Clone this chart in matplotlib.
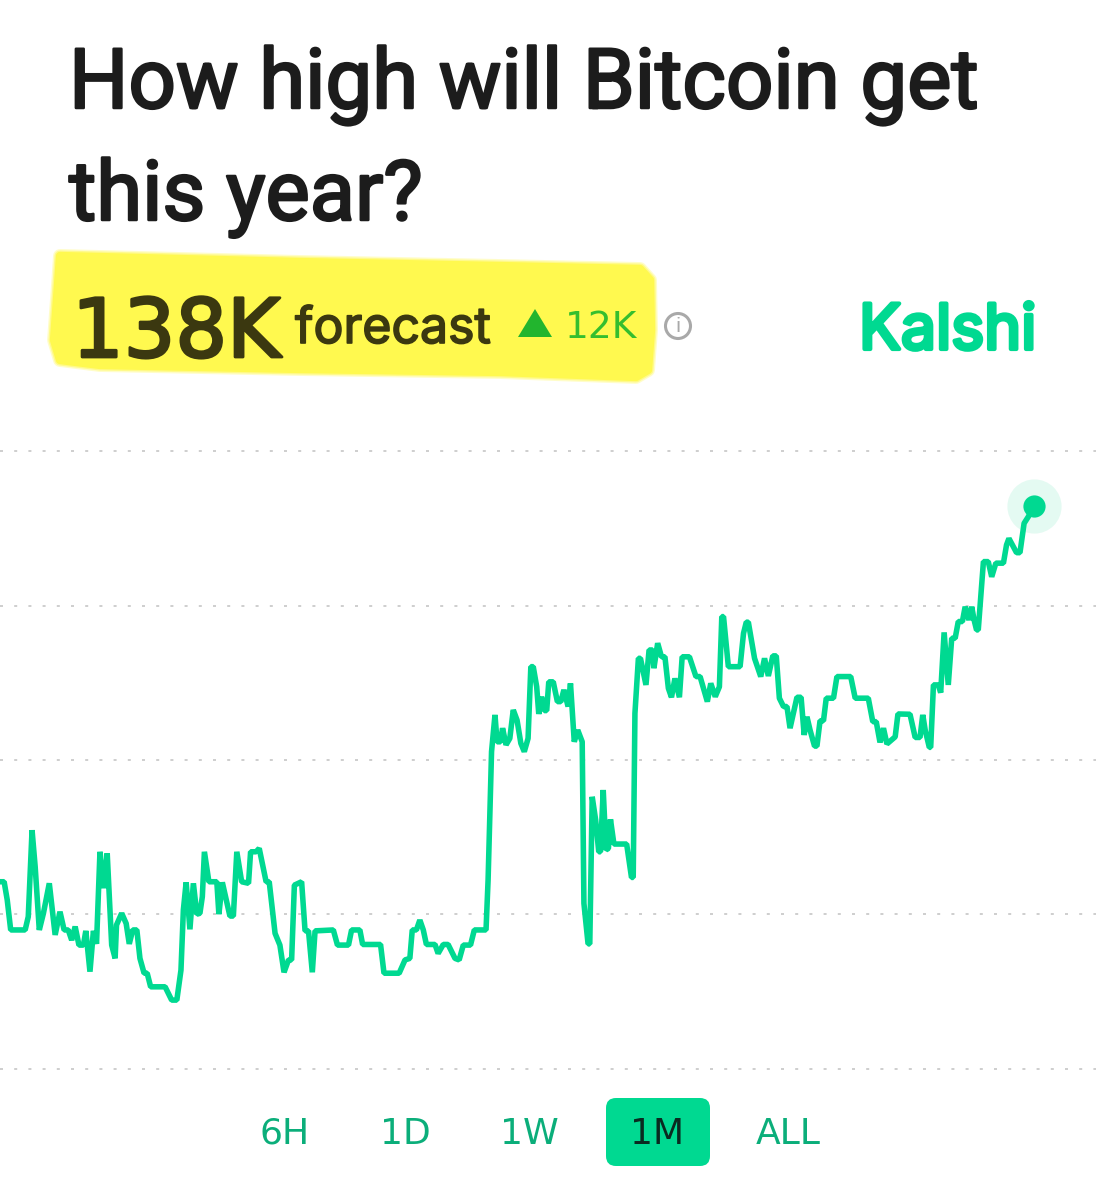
import matplotlib
matplotlib.use("Agg")
import matplotlib.pyplot as plt
from matplotlib.patches import Polygon, FancyBboxPatch, Circle
import matplotlib.patheffects as pe

plt.rcParams['font.family'] = ['Roboto', 'DejaVu Sans']

TITLE_LINES = ["How high will Bitcoin get", "this year?"]
HEADLINE = "138K"
HEADLINE_LABEL = "forecast"
CHANGE = "12K"
BRAND = "Kalshi"
RANGES = ["6H", "1D", "1W", "1M", "ALL"]
ACTIVE_RANGE = "1M"
GRID_K = [120, 125, 130, 135, 140]

days = [
    0, .12, .21, .31, .73, .82, .93, 1.02, 1.14, 1.26,
    1.43, 1.60, 1.74, 1.86, 1.98, 2.08, 2.18, 2.29, 2.42, 2.49,
    2.61, 2.71, 2.80, 2.90, 3.02, 3.11, 3.24, 3.34, 3.38, 3.53,
    3.66, 3.75, 3.85, 3.97, 4.06, 4.18, 4.27, 4.37, 4.79, 4.98,
    5.13, 5.25, 5.32, 5.40, 5.51, 5.61, 5.71, 5.80, 5.87, 5.93,
    6.06, 6.29, 6.35, 6.45, 6.67, 6.77, 6.87, 7.01, 7.21, 7.27,
    7.43, 7.52, 7.72, 7.81, 7.98, 8.12, 8.24, 8.37, 8.46, 8.54,
    8.75, 8.85, 8.95, 9.06, 9.14, 9.67, 9.79, 10.11, 10.20, 10.44,
    10.52, 11.04, 11.14, 11.58, 11.75, 11.89, 11.96, 12.08, 12.18, 12.28,
    12.37, 12.62, 12.71, 12.86, 13.00, 13.20, 13.32, 13.44, 13.65, 13.76,
    14.10, 14.16, 14.26, 14.36, 14.42, 14.52, 14.58, 14.68, 14.79, 14.89,
    15.00, 15.11, 15.21, 15.32, 15.40, 15.47, 15.57, 15.63, 15.71, 15.79,
    15.86, 15.92, 16.05, 16.17, 16.27, 16.36, 16.48, 16.55, 16.66, 16.76,
    16.89, 16.94, 17.06, 17.11, 17.18, 17.28, 17.37, 17.42, 17.50, 17.58,
    17.65, 17.71, 17.81, 18.18, 18.32, 18.37, 18.42, 18.52, 18.58, 18.74,
    18.83, 18.93, 18.97, 19.08, 19.19, 19.29, 19.39, 19.48, 19.58,
    19.71, 19.79, 20.00, 20.19, 20.31, 20.52, 20.62, 20.75, 20.87, 20.94,
    20.99, 21.13, 21.47, 21.57, 21.65, 21.71, 21.89, 22.07, 22.18, 22.29,
    22.42, 22.52, 22.61, 22.73, 22.83, 22.92, 23.12, 23.24, 23.33, 23.41,
    23.50, 23.63, 23.70, 23.79, 23.89, 23.97, 24.18, 24.28, 24.68, 24.81,
    25.19, 25.32, 25.42, 25.53, 25.63, 25.73, 25.97, 26.05,
    26.40, 26.55, 26.69, 26.77, 26.84, 26.96, 27.00, 27.08, 27.22, 27.29,
    27.39, 27.51, 27.61, 27.71, 27.80, 27.92, 28.00, 28.11, 28.19, 28.26,
    28.33, 28.38, 28.53, 28.67, 28.77, 28.89, 29.11, 29.20, 29.27, 29.49,
    29.59, 29.71, 29.83, 30.00,
]
forecast_k = [
    126.06, 126.06, 125.47, 124.50, 124.50, 124.93, 127.73, 126.55, 124.50, 125.04,
    126.01, 124.34, 125.09, 124.50, 124.50, 124.17, 124.61, 124.01, 124.01, 124.47,
    123.15, 124.47, 124.05, 127.03, 125.85, 126.98, 124.01, 123.58, 124.66, 125.04,
    124.71, 124.05, 124.50, 124.50, 123.58, 123.10, 123.10, 122.66, 122.66, 122.23,
    122.23, 123.20, 125.15, 126.04, 124.52, 126.01, 125.01, 125.04, 125.58, 127.03,
    126.06, 126.06, 125.01, 126.04, 124.95, 124.95, 127.03, 126.06, 126.01, 127.03,
    127.03, 127.14, 126.06, 126.06, 124.39, 124.01, 123.13, 123.53, 123.53, 125.95,
    126.06, 124.47, 124.47, 123.13, 124.47, 124.50, 124.01, 124.01, 124.50, 124.50,
    124.03, 124.03, 123.10, 123.10, 123.53, 123.58, 124.50, 124.50, 124.82, 124.50,
    124.03, 124.03, 123.74, 124.03, 124.03, 123.58, 123.53, 124.01, 124.01, 124.50,
    124.50, 126.12, 130.27, 131.46, 130.59, 130.59, 131.03, 130.49, 130.70, 131.62,
    131.29, 130.54, 130.27, 130.70, 133.02, 133.02, 132.37, 131.49, 132.05, 131.60,
    131.60, 132.53, 132.53, 131.89, 131.89, 132.27, 131.73, 132.48, 130.59, 130.97,
    130.59, 125.36, 124.05, 124.05, 128.81, 128.06, 127.03, 127.03, 129.03, 127.09,
    127.14, 128.08, 127.28, 127.28, 126.20, 126.20, 131.51, 133.29, 133.29, 132.43,
    133.56, 133.56, 132.97, 133.78, 133.34, 133.34, 132.32, 132.03, 132.64,
    132.03, 133.34, 133.34, 132.70, 132.70, 131.89, 132.48, 132.05, 132.37, 134.64,
    134.64, 133.02, 133.02, 134.10, 134.46, 134.46, 133.29, 132.70, 133.29, 132.72,
    133.37, 133.37, 132.00, 131.73, 131.73, 131.03, 132.03, 132.03, 130.81, 131.40,
    130.97, 130.45, 130.45, 131.27, 131.27, 132.00, 132.00, 132.70, 132.70, 132.00,
    132.00, 131.24, 131.24, 130.57, 131.03, 130.52, 130.75, 131.49,
    131.48, 130.73, 130.73, 131.46, 130.97, 130.41, 130.41, 132.43, 132.43, 132.18,
    134.13, 132.43, 133.94, 133.94, 134.48, 134.48, 134.96, 134.53, 134.96, 134.53,
    134.21, 134.21, 136.42, 136.42, 135.93, 136.37, 136.37, 136.96, 137.17, 136.71,
    136.71, 137.66, 137.87, 138.23,
]

W, H = 1106, 1200
GREEN = "#00D991"
fig = plt.figure(figsize=(W / 100, H / 100), dpi=100, facecolor="white")


def heavy(t, width, color):
    t.set_path_effects([pe.withStroke(linewidth=width, foreground=color)])
    return t


page = fig.add_axes([0, 0, 1, 1])
page.set_xlim(0, W)
page.set_ylim(H, 0)
page.axis("off")

for line, base in zip(TITLE_LINES, (108, 220)):
    heavy(page.text(69, base, line, fontsize=60, color="#1C1C1C", va="baseline", ha="left"), 1.8, "#1C1C1C")

marker_shape = [(60, 256), (300, 262), (500, 266), (640, 269), (650, 280), (651, 330), (648, 370), (636, 377),
                (500, 372), (300, 369), (100, 365), (60, 360), (54, 340), (58, 285)]
for lw, alpha in ((10, 0.3), (8, 0.5), (6, 1.0)):
    page.add_patch(Polygon(marker_shape, closed=True, facecolor="#FFF94F", edgecolor="#FFF94F", lw=lw,
                           alpha=alpha, joinstyle="round"))
heavy(page.text(72, 357, HEADLINE, fontsize=58.5, family="DejaVu Sans", color="#3B3810", va="baseline", ha="left"),
      2.0, "#3B3810")
heavy(page.text(295, 343, HEADLINE_LABEL, fontsize=36, family="Inter", color="#3B3810", va="baseline", ha="left"),
      1.2, "#3B3810")
page.add_patch(Polygon([(518, 337), (552, 337), (535, 309)], closed=True, facecolor="#22B52E", edgecolor="none"))
page.text(565, 338, CHANGE, fontsize=27, family="DejaVu Sans", color="#35BE2E", va="baseline", ha="left")
page.add_patch(Circle((678, 326), 12.5, facecolor="none", edgecolor="#A9A9A9", lw=2.2))
page.text(678, 327, "i", fontsize=15, color="#A9A9A9", va="center", ha="center")
heavy(page.text(859, 349, BRAND, fontsize=45, family="Inter", color=GREEN, va="baseline", ha="left"), 3.0, GREEN)

box = FancyBboxPatch((616, 1108), 84, 48, boxstyle="round,pad=10,rounding_size=10", facecolor=GREEN,
                     edgecolor=GREEN, lw=0, mutation_scale=1)
page.add_patch(box)
for label, cx in zip(RANGES, (285, 405, 529, 657, 788)):
    col = "#0A2A20" if label == ACTIVE_RANGE else "#0BAE7A"
    page.text(cx, 1143.5, label, fontsize=26, family="DejaVu Sans", color=col, va="baseline", ha="center")

PX_PER_DAY = 34.47
ax = fig.add_axes([0, (H - 1069) / H, 1096 / W, (1069 - 451) / H])
ax.patch.set_alpha(0)
ax.set_xlim(0, 1096 / PX_PER_DAY)
ax.set_ylim(GRID_K[0], GRID_K[-1])
for s in ax.spines.values():
    s.set_visible(False)
ax.set_xticks([])
ax.set_yticks(GRID_K)
ax.tick_params(length=0, labelleft=False)
ax.grid(axis="y", color="#CFCFCF", lw=1.44, linestyle=(0, (1.5, 5.6)))
ax.set_axisbelow(True)
for gl in ax.get_ygridlines():
    gl.set_clip_on(False)

ax.plot(days[-1], forecast_k[-1], "o", ms=39, mfc="#E4FAF2", mec="none", clip_on=False, zorder=2)
ax.plot(days, forecast_k, color=GREEN, lw=4.0, solid_joinstyle="bevel", zorder=3, clip_on=False)
ax.plot(days[-1], forecast_k[-1], "o", ms=16, mfc=GREEN, mec="none", clip_on=False, zorder=4)

fig.savefig("out.png", dpi=100, facecolor="white")
